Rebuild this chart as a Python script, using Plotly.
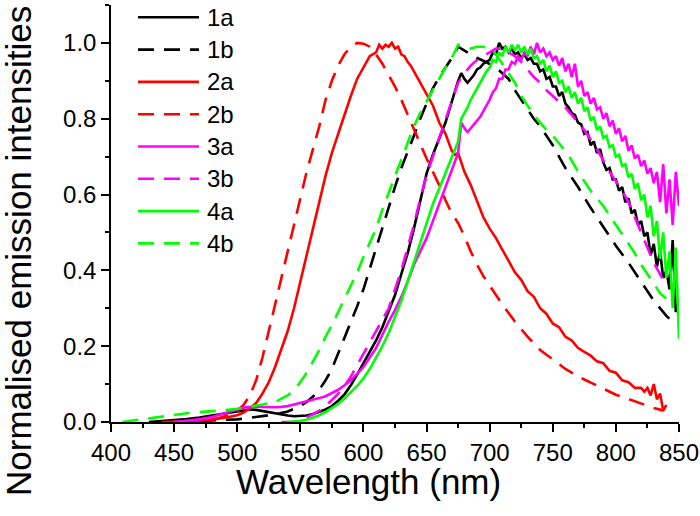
import plotly.graph_objects as go

# ---------------- data ----------------
WL_TAIL = [700, 702.5, 705, 707.5, 710, 712.5, 715, 717.5, 720, 722.5, 725, 727.5, 730, 732.5, 735, 737.5,
           740, 742.5, 745, 747.5, 750, 752.5, 755, 757.5, 760, 762.5, 765, 767.5, 770, 772.5, 775, 777.5,
           780, 782.5, 785, 787.5, 790, 792.5, 795, 797.5, 800, 802.5, 805, 807.5, 810, 812.5, 815, 817.5,
           820, 822.5, 825, 827.5, 830, 832.5, 835, 837.5, 840, 842.5, 845, 847.5, 850]

# 1a (black solid)
WL_1A_HEAD = [430, 440, 450, 460, 470, 480, 490, 500, 505, 510, 515, 520, 525, 530, 535, 540, 545, 550, 555,
              560, 565, 570, 575, 580, 585, 590, 595, 600, 605, 610, 615, 620, 625, 630, 635, 640, 645, 650,
              655, 660, 665, 670, 675, 677.5, 680, 682.5, 685, 687.5, 690, 692.5, 695, 697.5]
I_1A_HEAD = [0, 0.002, 0.005, 0.008, 0.012, 0.017, 0.022, 0.028, 0.031, 0.033, 0.032, 0.029, 0.026, 0.022,
             0.019, 0.017, 0.015, 0.015, 0.017, 0.021, 0.026, 0.033, 0.042, 0.056, 0.073, 0.097, 0.125, 0.155,
             0.185, 0.215, 0.25, 0.29, 0.335, 0.39, 0.445, 0.51, 0.585, 0.655, 0.705, 0.75, 0.79, 0.845, 0.90,
             0.92, 0.905, 0.895, 0.905, 0.915, 0.93, 0.935, 0.945, 0.95]
I_1A_TAIL = [0.955, 0.975, 0.97, 1.0, 0.985, 0.99, 0.975, 0.985, 0.97, 0.975, 0.96, 0.97, 0.955, 0.96, 0.945,
             0.945, 0.925, 0.93, 0.905, 0.91, 0.885, 0.885, 0.86, 0.87, 0.84, 0.83, 0.815, 0.81, 0.79, 0.785,
             0.76, 0.765, 0.73, 0.74, 0.71, 0.72, 0.685, 0.665, 0.67, 0.64, 0.64, 0.61, 0.62, 0.58, 0.59, 0.55,
             0.56, 0.52, 0.53, 0.49, 0.50, 0.44, 0.47, 0.41, 0.45, 0.38, 0.40, 0.35, 0.48, 0.29, 0.32]

# 1b (black dashed)
WL_1B = [450, 480, 500, 510, 520, 530, 540, 550, 555, 560, 565, 570, 575, 580, 585, 590, 595, 600, 605, 610,
         615, 620, 625, 630, 635, 640, 645, 650, 655, 660, 665, 670, 675, 680, 685, 690, 695, 700, 705, 710,
         715, 720, 725, 730, 735, 740, 745, 750, 760, 770, 780, 790, 800, 810, 820, 830, 840, 848]
I_1B = [0, 0.003, 0.007, 0.011, 0.015, 0.02, 0.028, 0.042, 0.053, 0.067, 0.085, 0.11, 0.14, 0.18, 0.225, 0.265,
        0.305, 0.35, 0.405, 0.46, 0.515, 0.565, 0.62, 0.67, 0.71, 0.755, 0.80, 0.84, 0.88, 0.91, 0.935, 0.96,
        0.99, 0.98, 0.97, 0.96, 0.953, 0.945, 0.935, 0.92, 0.905, 0.875, 0.85, 0.825, 0.80, 0.78, 0.755, 0.73,
        0.67, 0.62, 0.565, 0.515, 0.465, 0.42, 0.37, 0.32, 0.28, 0.255]

# 2a (red solid)
WL_2A = [440, 450, 460, 470, 480, 490, 500, 505, 510, 515, 520, 525, 530, 535, 540, 545, 550, 555, 560, 565,
         570, 575, 580, 585, 590, 595, 600, 605, 610, 612.5, 615, 617.5, 620, 622.5, 625, 627.5, 630, 632.5,
         635, 637.5, 640, 645, 650, 655, 660, 665, 670, 672.5, 675, 677.5, 680, 685, 690, 695, 700, 705, 710,
         715, 720, 725, 730, 735, 740, 745, 750, 755, 760, 765, 770, 775, 780, 785, 790, 795, 800, 805, 810,
         815, 820, 822.5, 825, 827.5, 830, 832.5, 835, 837.5, 840]
I_2A = [0, 0.001, 0.002, 0.004, 0.007, 0.011, 0.018, 0.025, 0.036, 0.05, 0.075, 0.105, 0.145, 0.19, 0.24, 0.30,
        0.37, 0.44, 0.515, 0.585, 0.65, 0.71, 0.76, 0.815, 0.86, 0.905, 0.935, 0.965, 0.975, 0.995, 0.985, 0.995,
        0.99, 1.0, 0.985, 0.99, 0.97, 0.965, 0.95, 0.94, 0.925, 0.895, 0.865, 0.835, 0.79, 0.76, 0.715, 0.705,
        0.71, 0.685, 0.66, 0.625, 0.58, 0.54, 0.51, 0.485, 0.455, 0.425, 0.395, 0.375, 0.345, 0.33, 0.30, 0.285,
        0.26, 0.25, 0.225, 0.215, 0.195, 0.185, 0.175, 0.16, 0.155, 0.135, 0.13, 0.11, 0.105, 0.09, 0.09, 0.08,
        0.09, 0.07, 0.1, 0.06, 0.075, 0.03, 0.045]

# 2b (red dashed)
WL_2B = [460, 480, 490, 500, 505, 510, 515, 520, 525, 530, 535, 540, 545, 550, 555, 560, 565, 570, 575, 580,
         585, 590, 595, 600, 605, 610, 615, 620, 625, 630, 635, 640, 645, 650, 655, 660, 665, 670, 675, 680,
         685, 690, 695, 700, 710, 720, 730, 740, 750, 760, 770, 780, 790, 800, 810, 820, 830, 838]
I_2B = [0, 0.005, 0.015, 0.03, 0.045, 0.07, 0.11, 0.17, 0.24, 0.31, 0.38, 0.45, 0.52, 0.59, 0.66, 0.72, 0.78,
        0.85, 0.90, 0.94, 0.97, 0.99, 1.0, 0.998, 0.99, 0.97, 0.945, 0.915, 0.885, 0.85, 0.81, 0.77, 0.73,
        0.695, 0.66, 0.625, 0.585, 0.55, 0.525, 0.49, 0.45, 0.415, 0.385, 0.36, 0.31, 0.265, 0.225, 0.19,
        0.165, 0.14, 0.12, 0.103, 0.088, 0.072, 0.06, 0.048, 0.037, 0.03]

# 3a (magenta solid)
WL_3A_HEAD = [450, 460, 470, 480, 490, 500, 505, 510, 515, 520, 525, 530, 535, 540, 545, 550, 555, 560, 565,
              570, 575, 580, 585, 590, 595, 600, 605, 610, 615, 620, 625, 630, 635, 640, 645, 650, 655, 660,
              665, 670, 675, 677.5, 680, 682.5, 685, 687.5, 690, 692.5, 695, 697.5]
I_3A_HEAD = [0, 0.003, 0.007, 0.013, 0.022, 0.033, 0.038, 0.04, 0.041, 0.04, 0.039, 0.039, 0.04, 0.042, 0.046,
             0.05, 0.054, 0.058, 0.063, 0.068, 0.076, 0.085, 0.097, 0.11, 0.127, 0.145, 0.17, 0.195, 0.23, 0.265,
             0.295, 0.33, 0.37, 0.415, 0.45, 0.485, 0.53, 0.575, 0.62, 0.66, 0.71, 0.79, 0.775, 0.765, 0.775,
             0.785, 0.795, 0.805, 0.82, 0.835]
I_3A_TAIL = [0.85, 0.87, 0.88, 0.905, 0.905, 0.93, 0.93, 0.95, 0.945, 0.965, 0.955, 0.975, 0.965, 0.99, 0.97,
             1.0, 0.975, 0.985, 0.965, 0.975, 0.955, 0.965, 0.94, 0.96, 0.925, 0.945, 0.91, 0.945, 0.885, 0.9,
             0.86, 0.87, 0.84, 0.855, 0.825, 0.83, 0.80, 0.815, 0.78, 0.795, 0.76, 0.775, 0.74, 0.755, 0.715,
             0.73, 0.695, 0.705, 0.675, 0.69, 0.655, 0.67, 0.63, 0.66, 0.58, 0.68, 0.55, 0.64, 0.52, 0.66, 0.57]

# 3b (magenta dashed)
WL_3B = [535, 545, 550, 555, 560, 565, 570, 575, 580, 585, 590, 595, 600, 605, 610, 615, 620, 625, 630, 635,
         640, 645, 650, 655, 660, 665, 670, 675, 680, 685, 690, 695, 700, 705, 710, 715, 720, 725, 730, 735,
         740, 745, 750, 755, 760, 765, 770, 775, 780, 785, 790, 795, 800, 805, 810, 815, 820, 825, 830, 835, 840]
I_3B = [0, 0, 0.005, 0.012, 0.02, 0.03, 0.042, 0.058, 0.075, 0.095, 0.12, 0.15, 0.18, 0.21, 0.24, 0.27, 0.30,
        0.35, 0.40, 0.46, 0.52, 0.59, 0.65, 0.70, 0.75, 0.80, 0.85, 0.895, 0.92, 0.94, 0.955, 0.965, 0.975,
        0.985, 0.985, 0.975, 0.965, 0.95, 0.93, 0.91, 0.895, 0.875, 0.86, 0.845, 0.83, 0.81, 0.79, 0.77, 0.745,
        0.72, 0.69, 0.66, 0.635, 0.61, 0.58, 0.54, 0.50, 0.455, 0.42, 0.39, 0.36]

# 4a (green solid)
WL_4A_HEAD = [540, 545, 550, 555, 560, 565, 570, 575, 580, 585, 590, 595, 600, 605, 610, 615, 620, 625, 630,
              635, 640, 645, 650, 655, 660, 665, 670, 675, 677.5, 680, 682.5, 685, 687.5, 690, 692.5, 695, 697.5]
I_4A_HEAD = [0, 0.001, 0.003, 0.006, 0.011, 0.018, 0.026, 0.036, 0.048, 0.062, 0.078, 0.095, 0.115, 0.14, 0.17,
             0.2, 0.235, 0.275, 0.32, 0.37, 0.42, 0.47, 0.525, 0.575, 0.615, 0.655, 0.695, 0.74, 0.8, 0.815,
             0.83, 0.85, 0.865, 0.88, 0.895, 0.91, 0.925]
I_4A_TAIL = [0.935, 0.955, 0.95, 0.975, 0.965, 0.99, 0.975, 0.995, 0.98, 0.995, 0.975, 0.99, 0.97, 0.985, 0.96,
             0.965, 0.945, 0.955, 0.925, 0.94, 0.91, 0.925, 0.895, 0.9, 0.87, 0.885, 0.855, 0.87, 0.84, 0.855,
             0.82, 0.83, 0.795, 0.805, 0.77, 0.78, 0.75, 0.755, 0.725, 0.73, 0.70, 0.705, 0.675, 0.68, 0.645,
             0.655, 0.615, 0.63, 0.585, 0.60, 0.54, 0.57, 0.49, 0.53, 0.43, 0.50, 0.38, 0.45, 0.30, 0.46, 0.22]

# 4b (green dashed)
WL_4B = [409, 420, 430, 440, 450, 460, 470, 480, 490, 500, 510, 520, 530, 540, 545, 550, 555, 560, 565, 570,
         575, 580, 585, 590, 595, 600, 605, 610, 615, 620, 625, 630, 635, 640, 645, 650, 655, 660, 665, 670,
         675, 680, 685, 690, 695, 700, 705, 710, 715, 720, 725, 730, 735, 740, 745, 750, 755, 760, 765, 770,
         775, 780, 785, 790, 795, 800, 805, 810, 815, 820, 825, 830, 835, 840, 845]
I_4B = [0, 0.005, 0.01, 0.015, 0.019, 0.023, 0.026, 0.028, 0.031, 0.035, 0.04, 0.046, 0.053, 0.07, 0.085, 0.105,
        0.13, 0.16, 0.19, 0.225, 0.255, 0.29, 0.325, 0.36, 0.395, 0.435, 0.475, 0.51, 0.56, 0.605, 0.65, 0.695,
        0.74, 0.78, 0.815, 0.845, 0.875, 0.905, 0.935, 0.96, 0.995, 0.99, 0.985, 0.99, 0.99, 0.985, 0.97,
        0.945, 0.92, 0.895, 0.86, 0.835, 0.81, 0.79, 0.77, 0.755, 0.735, 0.715, 0.69, 0.66, 0.635, 0.61, 0.59,
        0.57, 0.545, 0.52, 0.495, 0.47, 0.445, 0.415, 0.39, 0.365, 0.34, 0.325, 0.31]

LABELS = ["1a", "1b", "2a", "2b", "3a", "3b", "4a", "4b"]
COLORS = ["#000000", "#000000", "#ff0000", "#ff0000", "#ff00ff", "#ff00ff", "#00ff00", "#00ff00"]
DASHES = ["solid", "16px,10px", "solid", "16px,10px", "solid", "16px,10px", "solid", "16px,10px"]

SERIES = [
    (WL_1A_HEAD + WL_TAIL, I_1A_HEAD + I_1A_TAIL),
    (WL_1B, I_1B),
    (WL_2A, I_2A),
    (WL_2B, I_2B),
    (WL_3A_HEAD + WL_TAIL, I_3A_HEAD + I_3A_TAIL),
    (WL_3B, I_3B),
    (WL_4A_HEAD + WL_TAIL, I_4A_HEAD + I_4A_TAIL),
    (WL_4B, I_4B),
]

X_TICKS = [400, 450, 500, 550, 600, 650, 700, 750, 800, 850]
Y_TICKS = [0.0, 0.2, 0.4, 0.6, 0.8, 1.0]

# ---------------- layout geometry ----------------
W, H = 700, 516
ML, MR, MT, MB = 111, 21, 5, 94
PW, PH = W - ML - MR, H - MT - MB


def px_x(p):
    return (p - ML) / PW


def px_y(p):
    return (H - MB - p) / PH


FONT = "Arial, Liberation Sans, sans-serif"

fig = go.Figure()
for (xs, ys), lab, col, dsh in zip(SERIES, LABELS, COLORS, DASHES):
    fig.add_trace(go.Scatter(x=xs, y=ys, mode="lines", name=lab, showlegend=False,
                             line=dict(color=col, width=2.6, dash=dsh)))

# manual legend
shapes = []
annotations = []
leg_y0, leg_dy = 17.3, 32.3
for k, (lab, col, dsh) in enumerate(zip(LABELS, COLORS, DASHES)):
    yy = px_y(leg_y0 + k * leg_dy)
    shapes.append(dict(type="line", xref="paper", yref="paper", x0=px_x(138), x1=px_x(199), y0=yy, y1=yy,
                       line=dict(color=col, width=2.6, dash=dsh)))
    annotations.append(dict(text=lab, xref="paper", yref="paper", x=px_x(205), y=yy, xanchor="left",
                            yanchor="middle", showarrow=False, font=dict(size=24, color="black", family=FONT)))

annotations.append(dict(text="Wavelength (nm)", xref="paper", yref="paper", x=px_x(368), y=px_y(481),
                        xanchor="center", yanchor="middle", showarrow=False,
                        font=dict(size=35, color="black", family=FONT)))
annotations.append(dict(text="Normalised emission intensities", xref="paper", yref="paper", x=px_x(18),
                        y=px_y(251), xanchor="center", yanchor="middle", textangle=-90, showarrow=False,
                        font=dict(size=35, color="black", family=FONT)))

fig.update_layout(
    width=W, height=H,
    margin=dict(l=ML, r=MR, t=MT, b=MB, pad=0, autoexpand=False),
    paper_bgcolor="white", plot_bgcolor="white",
    showlegend=False,
    shapes=shapes, annotations=annotations,
    font=dict(family=FONT, color="black"),
)
fig.update_xaxes(range=[400, 850], tickmode="array", tickvals=X_TICKS, ticktext=[str(v) for v in X_TICKS],
                 ticks="outside", ticklen=8, tickwidth=1.5, tickcolor="black", automargin=False,
                 minor=dict(dtick=25, ticks="outside", ticklen=4, tickwidth=1.5, tickcolor="black"),
                 showline=True, linewidth=1.5, linecolor="black", showgrid=False, zeroline=False,
                 tickfont=dict(size=24, family=FONT, color="black"))
fig.update_yaxes(range=[0, 1.1], tickmode="array", tickvals=Y_TICKS, ticktext=[f"{v:.1f}" for v in Y_TICKS],
                 ticks="outside", ticklen=8, tickwidth=1.5, tickcolor="black", automargin=False,
                 minor=dict(dtick=0.1, ticks="outside", ticklen=4, tickwidth=1.5, tickcolor="black"),
                 showline=True, linewidth=1.5, linecolor="black", showgrid=False, zeroline=False,
                 tickfont=dict(size=24, family=FONT, color="black"))

fig.write_html("out.html", config={"displayModeBar": False},
               post_script="document.body.style.margin='0px';document.body.style.padding='0px';")
